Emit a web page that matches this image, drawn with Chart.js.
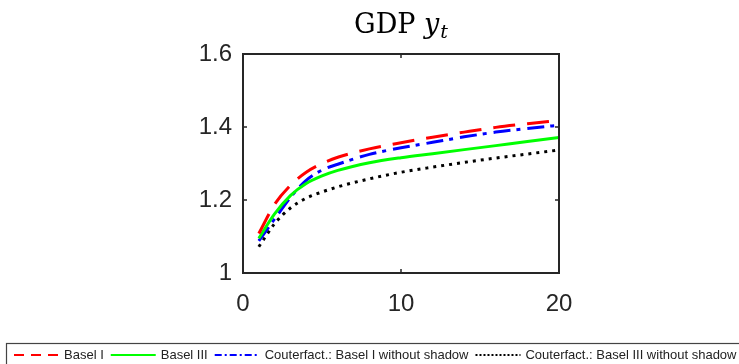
<!DOCTYPE html>
<html>
<head>
<meta charset="utf-8">
<script src="https://cdn.jsdelivr.net/npm/chart.js@4/dist/chart.umd.min.js"></script>
<style>
  body { margin: 0; background: #fff; }
  #wrap { width: 739px; height: 364px; }
</style>
</head>
<body>
<div id="wrap"><canvas id="gdpChart" width="739" height="364"></canvas></div>
<script>
// Horizon (quarters) and GDP paths
const periods = [1, 2, 3, 4, 5, 6, 8, 10, 12, 14, 16, 18, 20];
const basel1 = [1.108, 1.188, 1.240, 1.276, 1.300, 1.317, 1.340, 1.357, 1.372, 1.386, 1.399, 1.409, 1.418];
const basel3 = [1.095, 1.162, 1.212, 1.245, 1.266, 1.281, 1.302, 1.316, 1.327, 1.338, 1.349, 1.360, 1.371];
const cfBasel1 = [1.088, 1.148, 1.207, 1.254, 1.282, 1.298, 1.325, 1.343, 1.358, 1.373, 1.386, 1.396, 1.405];
const cfBasel3 = [1.072, 1.135, 1.178, 1.205, 1.222, 1.236, 1.258, 1.276, 1.290, 1.303, 1.315, 1.326, 1.337];
const seriesNames = [
  "Basel I",
  "Basel III",
  "Couterfact.: Basel I without shadow",
  "Couterfact.: Basel III without shadow",
];
const yTicks = [1, 1.2, 1.4, 1.6];
const xTicks = [0, 10, 20];

const axisColor = "#262626";

function toPoints(values) {
  return values.map((v, i) => ({ x: periods[i], y: v }));
}

// dash patterns used in the small legend samples
const legendDash = [[10, 7], [], [7, 3, 2, 3], [2, 2]];

// Box, inner tick marks (MATLAB style)
const framePlugin = {
  id: "frame",
  afterDatasetsDraw(chart) {
    const { ctx, chartArea: a, scales } = chart;
    ctx.save();
    ctx.strokeStyle = axisColor;
    ctx.lineWidth = 1.5;
    const len = 4;
    ctx.beginPath();
    xTicks.forEach((t) => {
      const x = scales.x.getPixelForValue(t);
      ctx.moveTo(x, a.bottom);
      ctx.lineTo(x, a.bottom - len);
      ctx.moveTo(x, a.top);
      ctx.lineTo(x, a.top + len);
    });
    yTicks.forEach((t) => {
      const y = scales.y.getPixelForValue(t);
      ctx.moveTo(a.left, y);
      ctx.lineTo(a.left + len, y);
      ctx.moveTo(a.right, y);
      ctx.lineTo(a.right - len, y);
    });
    ctx.stroke();
    ctx.lineWidth = 2;
    ctx.strokeRect(a.left, a.top, a.right - a.left, a.bottom - a.top);
    ctx.restore();
  },
};

// Title "GDP y_t" and the boxed legend along the bottom
const textPlugin = {
  id: "texts",
  afterDraw(chart) {
    const { ctx, chartArea: a } = chart;
    ctx.save();
    // title
    const base = 33;
    const f1 = '27px "DejaVu Serif"';
    const f2 = 'italic 27px "DejaVu Serif"';
    const f3 = 'italic 19px "DejaVu Serif"';
    ctx.font = f1;
    const w1 = ctx.measureText("GDP ").width;
    ctx.font = f2;
    const w2 = ctx.measureText("y").width;
    ctx.font = f3;
    const w3 = ctx.measureText("t").width;
    let x = (a.left + a.right) / 2 - (w1 + w2 + w3 + 1) / 2;
    ctx.fillStyle = "#000";
    ctx.textBaseline = "alphabetic";
    ctx.font = f1;
    ctx.fillText("GDP ", x, base);
    x += w1;
    ctx.font = f2;
    ctx.fillText("y", x, base);
    x += w2 + 1;
    ctx.font = f3;
    ctx.fillText("t", x, base + 5);

    // legend
    ctx.strokeStyle = "#444";
    ctx.lineWidth = 1.2;
    ctx.strokeRect(6.5, 343.5, 760, 30);
    ctx.font = '13px "Liberation Sans"';
    ctx.textBaseline = "middle";
    const ly = 355;
    let lx = 14;
    chart.data.datasets.forEach((ds, i) => {
      ctx.beginPath();
      ctx.setLineDash(legendDash[i]);
      ctx.strokeStyle = ds.borderColor;
      ctx.lineWidth = 2;
      ctx.moveTo(lx, ly);
      ctx.lineTo(lx + 45, ly);
      ctx.stroke();
      ctx.setLineDash([]);
      lx += 50;
      ctx.fillStyle = "#222";
      ctx.fillText(ds.label, lx, ly);
      lx += ctx.measureText(ds.label).width + 7;
    });
    ctx.restore();
  },
};

const colors = ["#ff0000", "#00ff00", "#0000ff", "#000000"];
const dashes = [[22, 12], [], [17, 6, 4, 7], [3, 5]];
const allSeries = [basel1, basel3, cfBasel1, cfBasel3];

const ctx = document.getElementById("gdpChart").getContext("2d");
new Chart(ctx, {
  type: "line",
  data: {
    datasets: allSeries.map((vals, i) => ({
      label: seriesNames[i],
      data: toPoints(vals),
      borderColor: colors[i],
      borderDash: dashes[i],
      borderWidth: 3,
      pointRadius: 0,
      cubicInterpolationMode: "monotone",
      fill: false,
    })),
  },
  options: {
    responsive: false,
    animation: false,
    layout: { padding: { left: 183, right: 180, top: 54, bottom: 51 } },
    plugins: {
      legend: { display: false },
      title: { display: false },
      tooltip: { enabled: false },
    },
    scales: {
      x: {
        type: "linear",
        min: 0,
        max: 20,
        afterBuildTicks(scale) {
          scale.ticks = xTicks.map((v) => ({ value: v }));
        },
        afterFit(scale) {
          scale.height = 40;
        },
        grid: { display: false, drawTicks: false },
        border: { display: false },
        ticks: {
          padding: 17,
          color: axisColor,
          font: { family: "Liberation Sans", size: 24 },
          maxRotation: 0,
        },
      },
      y: {
        min: 1,
        max: 1.6,
        afterBuildTicks(scale) {
          scale.ticks = yTicks.map((v) => ({ value: v }));
        },
        afterFit(scale) {
          scale.width = 60;
        },
        grid: { display: false, drawTicks: false },
        border: { display: false },
        ticks: {
          padding: 11,
          color: axisColor,
          font: { family: "Liberation Sans", size: 24 },
          callback: (v) => String(Math.round(v * 10) / 10),
        },
      },
    },
  },
  plugins: [framePlugin, textPlugin],
});
</script>
</body>
</html>
